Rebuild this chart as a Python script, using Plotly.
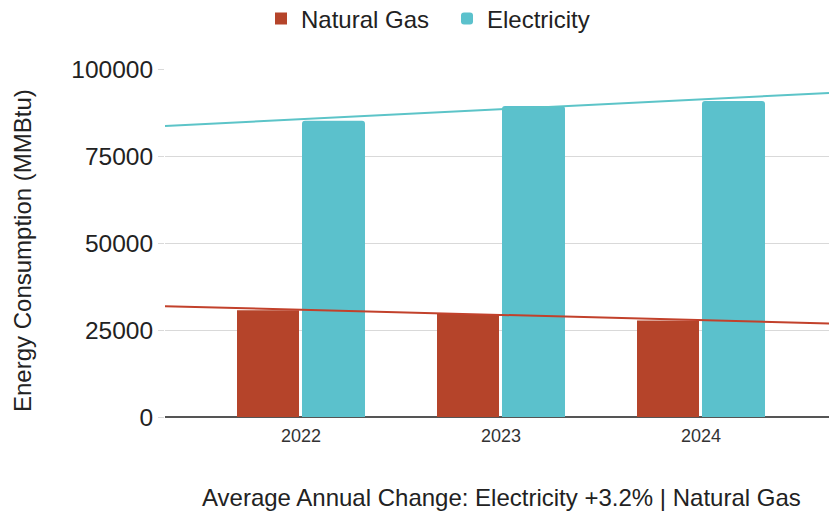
import numpy as np
import plotly.graph_objects as go

years = [2022, 2023, 2024]
natural_gas = [30700, 29600, 27700]
electricity = [85100, 89400, 90800]
series_names = ["Natural Gas", "Electricity"]
y_ticks = [0, 25000, 50000, 75000, 100000]
footer_text = "Average Annual Change: Electricity +3.2% | Natural Gas"
y_title = "Energy Consumption (MMBtu)"

NG_COLOR = "#B5442A"
EL_COLOR = "#5BC1CC"
NG_LINE = "#C2412B"
EL_LINE = "#5CC4C8"
FONT = "Liberation Sans, Arial, sans-serif"

X_RANGE = [2021.32, 2024.64]

fig = go.Figure()
fig.add_trace(go.Bar(
    x=years, y=natural_gas, name=series_names[0],
    marker=dict(color=NG_COLOR, line=dict(width=0)),
    width=0.31, offset=-0.32,
))
fig.add_trace(go.Bar(
    x=years, y=electricity, name=series_names[1],
    marker=dict(color=EL_COLOR, line=dict(width=0), cornerradius=3),
    width=0.315, offset=0.005,
))

# linear trendlines fitted to the data
xs = np.array(X_RANGE)
for vals, col in [(natural_gas, NG_LINE), (electricity, EL_LINE)]:
    slope, intercept = np.polyfit(years, vals, 1)
    fig.add_trace(go.Scatter(
        x=xs, y=slope * xs + intercept, mode="lines",
        line=dict(color=col, width=2), showlegend=False, hoverinfo="skip",
    ))

fig.update_layout(
    width=829, height=512,
    margin=dict(l=165, r=0, t=69, b=95, autoexpand=False),
    paper_bgcolor="white", plot_bgcolor="white",
    font=dict(family=FONT, color="#222222"),
    showlegend=True,
    legend=dict(
        orientation="h", xref="container", yref="container",
        x=261 / 829, xanchor="left", y=1 - 19 / 512, yanchor="middle",
        font=dict(size=24, color="#222222"), itemwidth=30,
        entrywidth=141, traceorder="normal",
    ),
    barmode="overlay",
)
fig.update_xaxes(
    range=X_RANGE, tickmode="array", tickvals=years,
    ticktext=[str(y) for y in years],
    tickfont=dict(size=18, color="#333333"),
    showgrid=False, zeroline=False, showline=False, ticks="",
    ticklabelstandoff=6,
)
fig.update_yaxes(
    range=[0, 100000], tickmode="array", tickvals=y_ticks,
    ticktext=[str(v) for v in y_ticks],
    tickfont=dict(size=24.5, color="#222222"),
    showgrid=True, gridcolor="#D9D9D9", gridwidth=1,
    zeroline=True, zerolinecolor="#555555", zerolinewidth=1.5,
    ticks="outside", ticklen=6, tickcolor="#D9D9D9",
    showline=False,
)
fig.add_annotation(
    text=y_title, textangle=-90, xref="paper", yref="paper",
    x=(22 - 165) / 664, y=0.477, xanchor="center", yanchor="middle",
    showarrow=False, font=dict(size=24, color="#222222"),
)
fig.add_annotation(
    text=footer_text, xref="paper", yref="paper",
    x=(200 - 165) / 664, y=(417 - 497) / 348, xanchor="left", yanchor="middle",
    showarrow=False, font=dict(size=24, color="#222222"),
)

fig.write_html("out.html")
